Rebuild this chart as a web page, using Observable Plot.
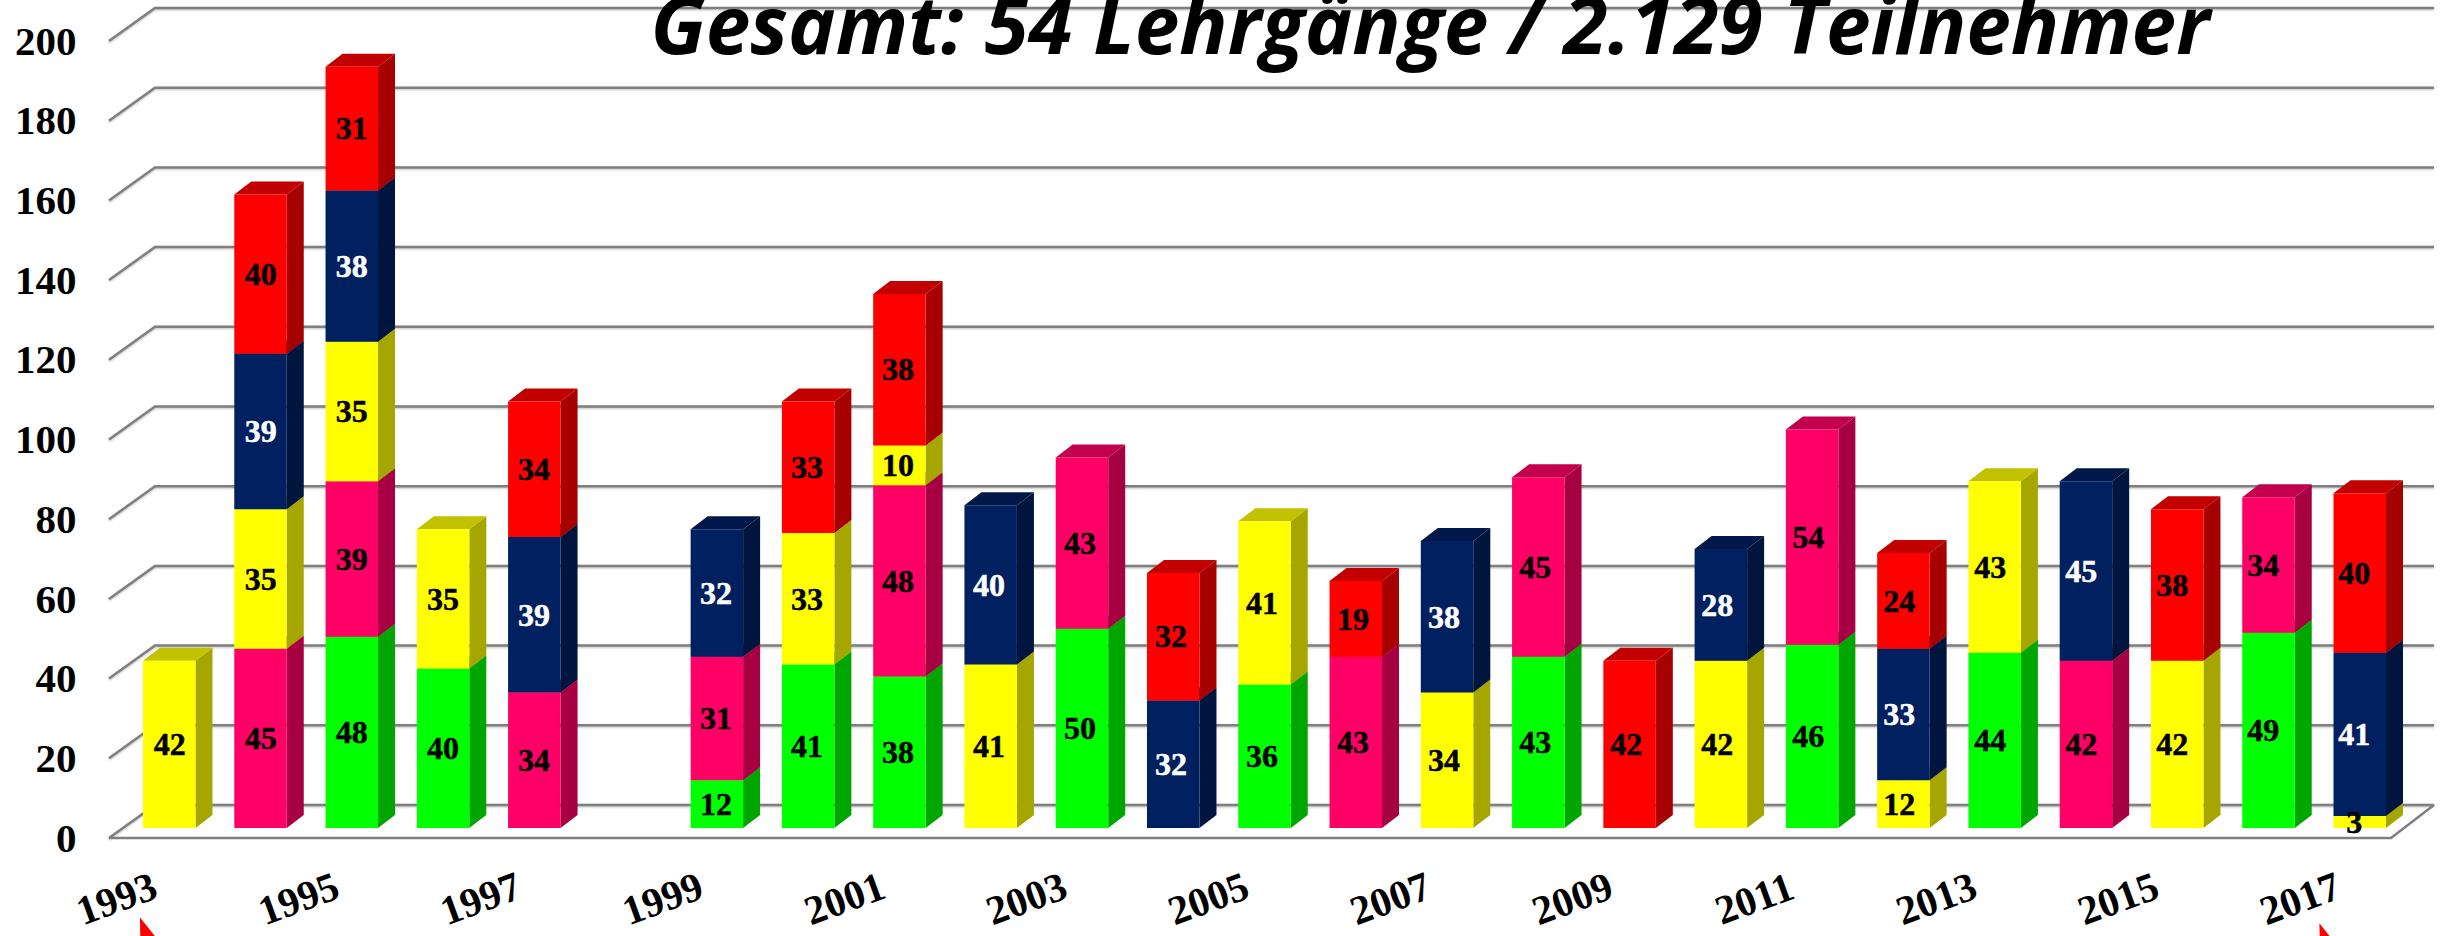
<!DOCTYPE html>
<html><head><meta charset="utf-8">
<script src="https://cdn.jsdelivr.net/npm/d3@7"></script>
<script src="https://cdn.jsdelivr.net/npm/@observablehq/plot@0.6"></script>
<style>html,body{margin:0;padding:0;background:#fff;overflow:hidden}svg{display:block}</style>
</head><body><div id="chart"></div>
<script>
const titleText = "Gesamt: 54 Lehrgänge / 2.129 Teilnehmer";
const years = d3.range(1993, 2018).map(String);
const yearTicks = ["1993","1995","1997","1999","2001","2003","2005","2007","2009","2011","2013","2015","2017"];
const yTicks = [0,20,40,60,80,100,120,140,160,180,200];
const seriesNames = ["Grün","Pink","Gelb","Blau","Rot"];
const seriesColors = ["#00ff00","#ff0066","#ffff00","#002060","#ff0000"];
const gruen = [0,0,48,40,0,0,12,41,38,0,50,0,36,0,0,43,0,0,46,0,44,0,0,49,0];
const pink  = [0,45,39,0,34,0,31,0,48,0,43,0,0,43,0,45,0,0,54,0,0,42,0,34,0];
const gelb  = [42,35,35,35,0,0,0,33,10,41,0,0,41,0,34,0,0,42,0,12,43,0,42,0,3];
const blau  = [0,39,38,0,39,0,32,0,0,40,0,32,0,0,38,0,0,28,0,33,0,45,0,0,41];
const rot   = [0,40,31,0,34,0,0,33,38,0,0,32,0,19,0,0,42,0,0,24,0,0,38,0,40];
const seriesValues = [gruen,pink,gelb,blau,rot];
const arrowYears = ["1993","2017"];
const arrowLevels = [-22.3,-23.8];

const rows = [];
seriesNames.forEach((s,i)=>years.forEach((y,j)=>{ if(seriesValues[i][j]>0) rows.push({year:y,series:s,value:seriesValues[i][j]}); }));

const W=2446,H=936, depthX=17, depthY=13;
const wallDX=46, wallUp=23, wallDown=10, gridColor="#7f7f7f";
const NS="http://www.w3.org/2000/svg";
const shade=(c,k)=>{const r=d3.rgb(c);return d3.rgb(r.r*k,r.g*k,r.b*k).formatHex();};
function poly(g,pts,fill){const p=document.createElementNS(NS,"polygon");p.setAttribute("points",pts.map(d=>d.join(",")).join(" "));p.setAttribute("fill",fill);g.appendChild(p);}

// 3D sides of every stacked segment, derived from the scaled bar values
function box3d(index,scales,values){
  const g=document.createElementNS(NS,"g");
  const bw=scales.x.bandwidth();
  for(const i of index){
    const x0=values.x[i], x1=x0+bw, yt=values.y2[i], yb=values.y1[i], c=values.fill[i];
    poly(g,[[x1,yb],[x1+depthX,yb-depthY],[x1+depthX,yt-depthY],[x1,yt]],shade(c,0.65));
    poly(g,[[x0,yt],[x0+depthX,yt-depthY],[x1+depthX,yt-depthY],[x1,yt]],shade(c,0.76));
    poly(g,[[x0,yt],[x1,yt],[x1,yb],[x0,yb]],c);
  }
  return g;
}
// Perspective gridlines: front tick, back wall corner, right end of wall
function wallGrid(index,scales,values,dims){
  const g=document.createElementNS(NS,"g");
  const xL=dims.marginLeft, xR=dims.width-dims.marginRight;
  for(const i of index){
    const y=values.y[i], yb=y-wallUp, yf=y+wallDown;
    const p=document.createElementNS(NS,"polyline");
    p.setAttribute("points",[[xL,yf],[xL+wallDX,yb],[xR,yb]].map(d=>d.join(",")).join(" "));
    p.setAttribute("fill","none");p.setAttribute("stroke",gridColor);p.setAttribute("stroke-width",2.5);
    p.setAttribute("style","filter:drop-shadow(0 1.5px 1px rgba(0,0,0,.25))");
    g.appendChild(p);
    if(i===0){
      const q=document.createElementNS(NS,"polyline");
      q.setAttribute("points",[[xL,yf],[xR-wallDX+3,yf],[xR,yb]].map(d=>d.join(",")).join(" "));
      q.setAttribute("fill","none");q.setAttribute("stroke",gridColor);q.setAttribute("stroke-width",2.5);
      g.appendChild(q);
    }
  }
  return g;
}
// Labels drift slightly left of the bars towards the right of the chart
const drift=(base,extra)=>function(index,scales,values,dims,ctx,next){
  const a=scales.x(years[0]), b=scales.x(years[24]);
  const bw=scales.x.bandwidth()/2;
  const x=Array.from(values.x,v=>{const f=(v-bw-a)/(b-a);return v+base+extra*f;});
  return next(index,scales,{...values,x},dims,ctx);
};

const serif='"Liberation Serif",serif';
const chart=Plot.plot({
  width:W,height:H,marginLeft:109,marginRight:12,marginTop:0,marginBottom:0,
  style:{background:"#fff",overflow:"hidden"},
  x:{type:"band",domain:years,range:[143,2386],paddingInner:0.425,paddingOuter:0,align:0,round:false,axis:null},
  y:{domain:[0,200],range:[828,31],axis:null},
  color:{domain:seriesNames,range:seriesColors},
  marks:[
    Plot.ruleY(yTicks,{y:d=>d,render:wallGrid}),
    Plot.barY(rows,Plot.stackY({x:"year",y:"value",fill:"series",order:seriesNames,render:box3d})),
    Plot.text(rows,Plot.stackY({x:"year",y:"value",order:seriesNames,z:"year",text:d=>String(d.value),
      fill:d=>d.series==="Blau"?"#ffffff":"#000000",stroke:d=>d.series==="Blau"?"#ffffff":"#000000",strokeWidth:0.5,
      fontFamily:serif,fontWeight:"bold",fontSize:32,render:drift(0,-6),style:{letterSpacing:"1px"}})),
    Plot.axisY(yTicks,{anchor:"left",tickSize:0,tickPadding:33,dy:10,fontFamily:serif,fontWeight:"bold",fontSize:41,fill:"#000",label:null,tickFormat:d=>String(d),style:{letterSpacing:"0.5px"}}),
    Plot.text(yearTicks,{x:d=>d,y:()=>-17.7,text:d=>d,rotate:-20,fontFamily:serif,fontWeight:"bold",fontSize:41,fill:"#000",render:drift(-53,-7),style:{letterSpacing:"1.5px"}}),
    Plot.vector(arrowYears,{x:d=>d,y:(d,i)=>arrowLevels[i],anchor:"start",length:40,fill:"#ff0000",stroke:"none",
      shape:{draw(c,l){c.moveTo(0,0);c.lineTo(1,l);c.lineTo(l*0.8,l);c.closePath();}},render:drift(-30,-11)}),
    Plot.text([titleText],{frameAnchor:"top-left",dx:541,dy:-3.5,text:d=>d,fontFamily:'"Open Sans",sans-serif',fontWeight:"bold",fontStyle:"italic",fontSize:80,fill:"#000",textAnchor:"start",lineAnchor:"top",
      style:{filter:"drop-shadow(3px 4px 2px rgba(0,0,0,.55))",letterSpacing:"2.7px"}})
  ]
});
document.getElementById("chart").appendChild(chart);
</script></body></html>
